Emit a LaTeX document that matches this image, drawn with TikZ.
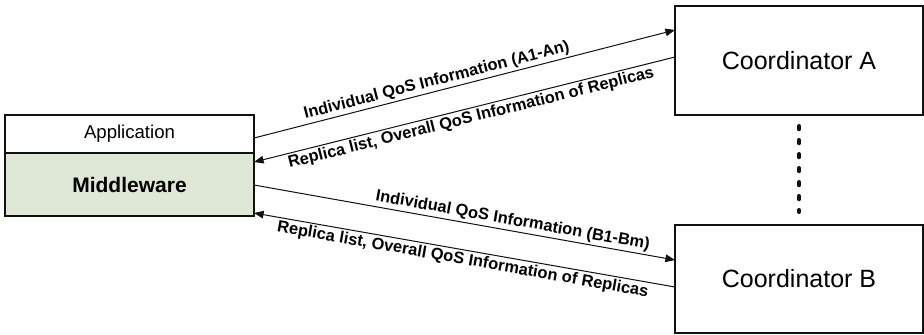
\documentclass[tikz,border=0pt]{standalone}
\usepackage{fontspec}
\setmainfont{Liberation Sans}
\usepackage{xcolor}
\usepackage{tikz}
\usetikzlibrary{arrows.meta,calc}
\definecolor{ink}{HTML}{111111}
\definecolor{mwfill}{HTML}{DFE7D7}

\begin{document}
\begin{tikzpicture}[x=0.5pt,y=-0.5pt,
  box/.style={draw=ink,line width=0.6pt,inner sep=0pt,outer sep=0pt},
  msg/.style={draw=ink,line width=0.5pt,-{Triangle[length=4.8pt,width=3.8pt]}},
  lbl/.style={font=\bfseries\fontsize{8.2}{10}\selectfont,sloped,inner sep=1pt}]
\useasboundingbox (0,0) rectangle (924,334);
% left stack
\node[box,minimum width=124.5pt,minimum height=19pt,font=\fontsize{9.3}{11}\selectfont] (app) at (129.5,134) {Application};
\node[box,fill=mwfill,minimum width=124.5pt,minimum height=31.5pt,anchor=north,font=\bfseries\fontsize{10.5}{12}\selectfont] (mw) at (app.south) {Middleware};
% coordinators
\node[box,minimum width=124pt,minimum height=54.5pt,font=\fontsize{12.5}{15}\selectfont] (coordA) at (799,60.5) {Coordinator A};
\node[box,minimum width=124pt,minimum height=54pt,font=\fontsize{12.5}{15}\selectfont] (coordB) at (799,279) {Coordinator B};
\draw[ink,line width=2pt,line cap=round,dash pattern=on 1.6pt off 5.4pt]
  ($(coordA.south)+(0,11)$) -- ($(coordB.north)+(0,-13)$);
% messages
\draw[msg] ($(app.east)+(0,4)$) -- node[lbl,above,pos=0.44] {Individual QoS Information (A1-An)} ($(coordA.west)+(0,-30.5)$);
\draw[msg] ($(coordA.west)+(0,-3.5)$) -- node[lbl,below,pos=0.49] {Replica list, Overall QoS Information of Replicas} ($(mw.east)+(0,-22.5)$);
\draw[msg] ($(mw.east)+(0,0.5)$) -- node[lbl,above,pos=0.61] {Individual QoS Information (B1-Bm)} ($(coordB.west)+(0,-19)$);
\draw[msg] ($(coordB.west)+(0,8)$) -- node[lbl,below,pos=0.5] {Replica list, Overall QoS Information of Replicas} ($(mw.east)+(0,28.5)$);
\end{tikzpicture}
\end{document}
